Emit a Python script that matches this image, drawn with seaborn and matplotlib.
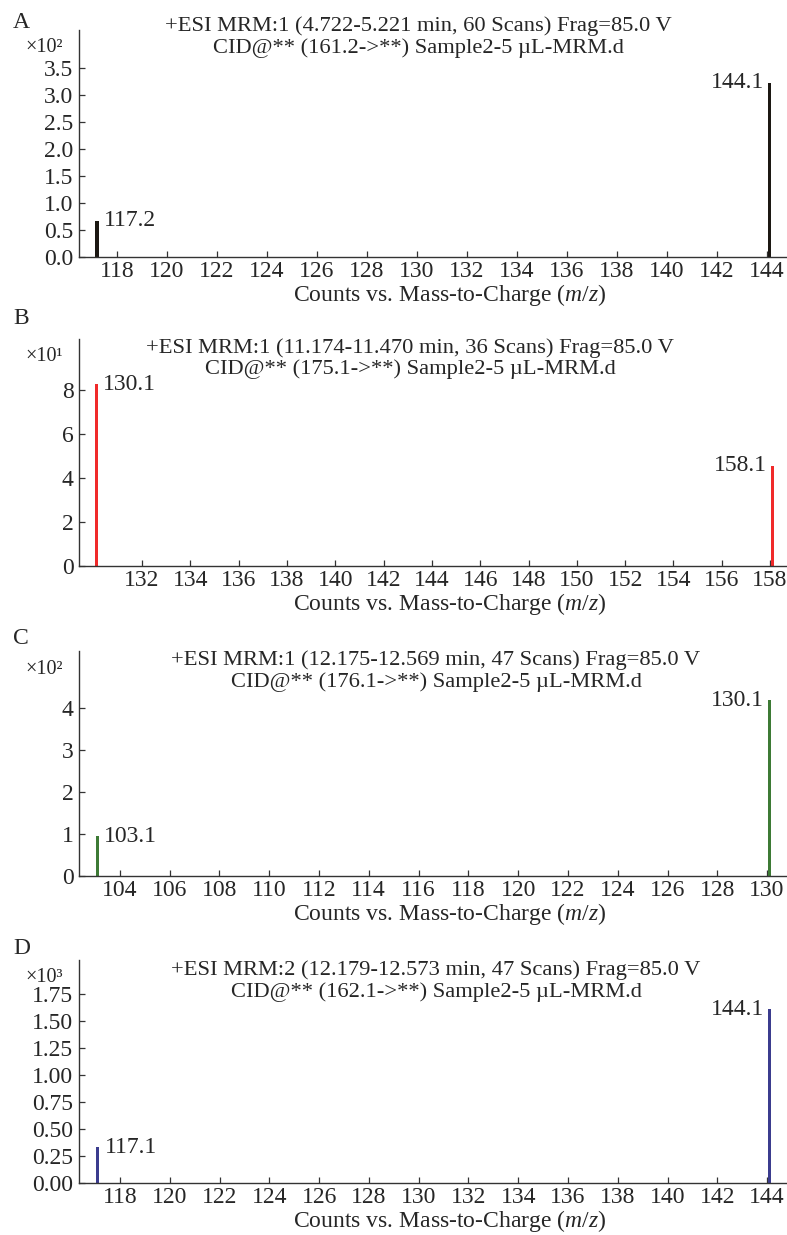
import numpy as np
import pandas as pd
import matplotlib
matplotlib.use("Agg")
import matplotlib.pyplot as plt
import seaborn as sns

# ---------------- data ----------------
panel_tags = ["A", "B", "C", "D"]
title_line1 = [
    "+ESI MRM:1 (4.722-5.221 min, 60 Scans) Frag=85.0 V",
    "+ESI MRM:1 (11.174-11.470 min, 36 Scans) Frag=85.0 V",
    "+ESI MRM:1 (12.175-12.569 min, 47 Scans) Frag=85.0 V",
    "+ESI MRM:2 (12.179-12.573 min, 47 Scans) Frag=85.0 V",
]
title_line2 = [
    "CID@** (161.2->**) Sample2-5 µL-MRM.d",
    "CID@** (175.1->**) Sample2-5 µL-MRM.d",
    "CID@** (176.1->**) Sample2-5 µL-MRM.d",
    "CID@** (162.1->**) Sample2-5 µL-MRM.d",
]
peak_mz = [[117.2, 144.1], [130.1, 158.1], [103.1, 130.1], [117.1, 144.1]]
peak_labels = [["117.2", "144.1"], ["130.1", "158.1"], ["103.1", "130.1"], ["117.1", "144.1"]]
peak_counts = [[67, 322], [82.5, 45.5], [95, 419], [330, 1605]]
exponents = [2, 1, 2, 3]
exp_text = ["×10²", "×10¹", "×10²", "×10³"]
x_ticks = [list(range(118, 145, 2)), list(range(132, 159, 2)),
           list(range(104, 131, 2)), list(range(118, 145, 2))]
y_ticks = [[0.0, 0.5, 1.0, 1.5, 2.0, 2.5, 3.0, 3.5],
           [0, 2, 4, 6, 8],
           [0, 1, 2, 3, 4],
           [0.00, 0.25, 0.50, 0.75, 1.00, 1.25, 1.50, 1.75]]
y_fmt = ["{:.1f}", "{:.0f}", "{:.0f}", "{:.2f}"]
colors = ["#1c1813", "#f02a2a", "#3d7a35", "#3b3c8e"]

# ---------------- layout (pixels of the 787 x 1235 picture) ----------------
W, H = 787, 1235
ax_left, ax_right = 79, 787
ax_tops = [30, 339, 651, 960]
ax_bottoms = [257, 566, 876, 1183]
x_lims = [(116.48, 144.8), (129.39, 158.7), (102.36, 130.8), (116.35, 144.8)]
y_tops = [4.2, 10.3, 5.36, 2.06]
title_y = [(26, 48), (348, 369), (660, 682), (970, 992)]
title_x = [418, 410, 436, 436]
tag_y = [22, 318, 638, 949]

sns.set_style("ticks")
plt.rcParams["font.family"] = ["Liberation Serif", "DejaVu Serif"]
plt.rcParams["mathtext.fontset"] = "custom"
plt.rcParams["mathtext.rm"] = "Liberation Serif"
plt.rcParams["mathtext.it"] = "Liberation Serif:italic"

fs = 17
fig = plt.figure(figsize=(W / 100, H / 100), dpi=100)

for i in range(4):
    top, bot = ax_tops[i], ax_bottoms[i]
    ax = fig.add_axes([ax_left / W, 1 - bot / H, (ax_right - ax_left) / W, (bot - top) / H])

    # stick spectrum drawn as very thin bars on the native m/z scale
    df = pd.DataFrame({"mz": peak_mz[i],
                       "counts": np.array(peak_counts[i]) / 10 ** exponents[i]})
    spacing = np.diff(sorted(df["mz"])).min()
    sns.barplot(data=df, x="mz", y="counts", native_scale=True, orient="x",
                width=0.13 / spacing, color=colors[i], saturation=1,
                linewidth=0, errorbar=None, ax=ax)

    ax.set_xlim(*x_lims[i])
    ax.set_ylim(0, y_tops[i])
    ax.set_xticks(x_ticks[i])
    ax.set_xticklabels([str(t) for t in x_ticks[i]])
    ax.set_yticks(y_ticks[i])
    ax.set_yticklabels([y_fmt[i].format(t) for t in y_ticks[i]])
    ax.tick_params(axis="both", direction="in", length=4, width=0.9,
                   color="#333333", labelsize=fs)
    ax.tick_params(axis="x", pad=3)
    ax.tick_params(axis="y", pad=4)
    sns.despine(ax=ax)
    for s in ["left", "bottom"]:
        ax.spines[s].set_color("#333333")
        ax.spines[s].set_linewidth(1.0)

    ax.set_ylabel("")
    ax.set_xlabel("Counts vs. Mass-to-Charge ($m/z$)", fontsize=fs)
    ax.xaxis.set_label_coords(0.523, -25 / (bot - top))

    # peak annotations
    for j, (mz, lab) in enumerate(zip(peak_mz[i], peak_labels[i])):
        yv = peak_counts[i][j] / 10 ** exponents[i]
        dx = 5 if j == 0 else -4
        ax.annotate(lab, (mz, yv), xytext=(dx, 0), textcoords="offset points",
                    ha="left" if j == 0 else "right", va="center", fontsize=fs)

    # exponent marker above the y axis
    ax.text(-16 / (ax_right - ax_left), 1 - 18 / (bot - top), exp_text[i],
            transform=ax.transAxes, ha="right", va="center", fontsize=14.5)

    # panel tag and two-line header
    fig.text(13 / W, 1 - tag_y[i] / H, panel_tags[i], ha="left", va="center", fontsize=17)
    fig.text(title_x[i] / W, 1 - title_y[i][0] / H, title_line1[i],
             ha="center", va="center", fontsize=16.2)
    fig.text(title_x[i] / W, 1 - title_y[i][1] / H, title_line2[i],
             ha="center", va="center", fontsize=16.2)

fig.savefig("out.png", dpi=100)
